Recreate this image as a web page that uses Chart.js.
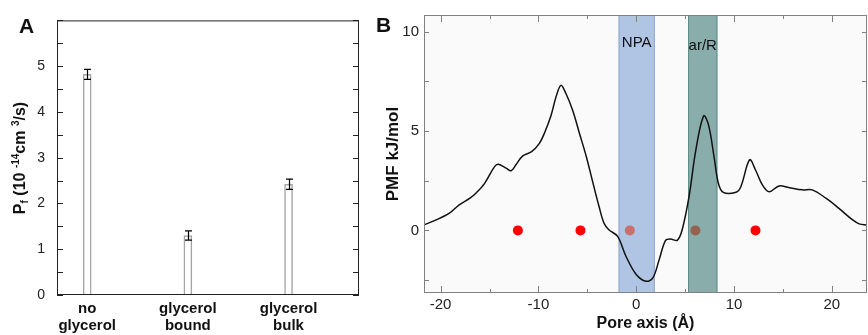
<!DOCTYPE html>
<html>
<head>
<meta charset="utf-8">
<script src="https://cdn.jsdelivr.net/npm/chart.js@4.4.1/dist/chart.umd.min.js"></script>
<style>
  body { margin: 0; background: #fff; }
  #wrapA { position: absolute; left: 0; top: 0; width: 370px; height: 335px; }
  #wrapB { position: absolute; left: 370px; top: 0; width: 498px; height: 335px; }
</style>
</head>
<body>
<div id="wrapA"><canvas id="chartA" width="370" height="335"></canvas></div>
<div id="wrapB"><canvas id="chartB" width="498" height="335"></canvas></div>
<script>
const FONT = "'Liberation Sans', Arial, sans-serif";

// Panel A - osmotic permeability
const pfLabels = [['no', 'glycerol'], ['glycerol', 'bound'], ['glycerol', 'bulk']];
const pfPos = [1, 2, 3];
const pfValues = [4.82, 1.30, 2.42];
const pfErrors = [0.11, 0.10, 0.11];
const pfTicks = [0, 0.5, 1, 1.5, 2, 2.5, 3, 3.5, 4, 4.5, 5, 5.5, 6];

// Panel B - PMF along the pore axis
const pmfX = [-21.7, -20.4, -19.1, -18.1, -17.0, -16.4, -15.5, -14.5, -14.1, -13.3, -12.8, -12.3,
  -11.6, -10.7, -9.9, -9.4, -8.7, -8.2, -7.7, -7.2, -6.5, -5.8, -5.1, -4.5, -3.8, -3.3, -2.8,
  -1.9, -1.05, 0, 1.0, 1.7, 2.35, 3.0, 3.5, 4.2, 4.7, 5.4, 6.1, 6.9, 7.4, 7.96, 8.4, 8.9, 10.2,
  10.7, 11.6, 12.2, 12.9, 13.6, 14.6, 15.6, 17.0, 18.0, 19.4, 20.7, 22.1, 22.8, 23.6];
const pmfY = [0.28, 0.54, 0.87, 1.29, 1.62, 1.87, 2.37, 3.2, 3.33, 3.13, 3.0, 3.3,
  3.75, 3.96, 4.38, 4.88, 5.8, 6.72, 7.3, 6.9, 6.05, 4.88, 3.71, 2.54, 1.2, 0.37, 0.03,
  -0.3, -1.3, -2.22, -2.56, -2.39, -1.47, -0.5, -0.43, -0.5, 0.03, 1.7, 4.05, 5.76, 5.3, 3.7, 2.37, 1.91, 1.92,
  2.2, 3.55, 3.04, 2.29, 1.94, 2.24, 2.16, 2.04, 2.04, 1.62, 1.12, 0.54, 0.33, 0.27];
const siteX = [-12.1, -5.7, -0.65, 6.05, 12.2];
const siteY = [0, 0, 0, 0, 0];
const bandRanges = [[-1.8, 1.9], [5.3, 8.3]];
const bandLabels = ['NPA', 'ar/R'];
const pmfXTicks = [-20, -15, -10, -5, 0, 5, 10, 15, 20];
const pmfYTicks = [-2.5, 0, 2.5, 5, 7.5, 10];

Chart.defaults.font.family = FONT;
Chart.defaults.color = '#222';

// draws a rotated label with sub/superscripts
function richText(ctx, parts, cx, cy) {
  ctx.save();
  ctx.translate(cx, cy);
  ctx.rotate(-Math.PI / 2);
  let total = 0;
  parts.forEach(p => { ctx.font = 'bold ' + p[1] + 'px ' + FONT; total += ctx.measureText(p[0]).width; });
  let x = -total / 2;
  ctx.fillStyle = '#111';
  ctx.textBaseline = 'alphabetic';
  parts.forEach(p => {
    ctx.font = 'bold ' + p[1] + 'px ' + FONT;
    ctx.fillText(p[0], x, p[2]);
    x += ctx.measureText(p[0]).width;
  });
  ctx.restore();
}

const panelA = {
  id: 'panelA',
  afterDatasetsDraw(chart) {
    const {ctx, chartArea: a, scales: {x, y}} = chart;
    ctx.save();
    ctx.strokeStyle = '#000';
    ctx.lineWidth = 1.2;
    pfPos.forEach((p, i) => {
      const px = Math.round(x.getPixelForValue(p)) + 0.5;
      const hi = y.getPixelForValue(pfValues[i] + pfErrors[i]);
      const lo = y.getPixelForValue(pfValues[i] - pfErrors[i]);
      ctx.beginPath();
      ctx.moveTo(px, hi); ctx.lineTo(px, lo);
      ctx.moveTo(px - 3.5, hi); ctx.lineTo(px + 3.5, hi);
      ctx.moveTo(px - 3.5, lo); ctx.lineTo(px + 3.5, lo);
      ctx.stroke();
    });
    ctx.strokeStyle = '#222';
    ctx.lineWidth = 1;
    ctx.strokeRect(a.left + 0.5, a.top + 0.5, a.width - 1, a.height - 1);
    ctx.beginPath();
    y.ticks.forEach(t => {
      const py = Math.round(y.getPixelForValue(t.value)) + 0.5;
      ctx.moveTo(a.left, py); ctx.lineTo(a.left + 6, py);
      ctx.moveTo(a.right, py); ctx.lineTo(a.right - 6, py);
    });
    ctx.stroke();
    ctx.fillStyle = '#111';
    ctx.font = 'bold 21px ' + FONT;
    ctx.fillText('A', 19, 33);
    ctx.restore();
    richText(ctx, [['P', 16, 0], ['f', 10, 3], [' (10 ', 16, 0], ['-14', 10, -6],
      ['cm ', 16, 0], ['3', 10, -6], ['/s)', 16, 0]], 25, 158);
  }
};

new Chart(document.getElementById('chartA'), {
  type: 'bar',
  data: {
    datasets: [{
      data: pfPos.map((p, i) => ({x: p, y: pfValues[i]})),
      backgroundColor: '#fff',
      borderColor: '#a5a5a5',
      borderWidth: 1.5,
      barThickness: 8
    }]
  },
  options: {
    responsive: false,
    animation: false,
    devicePixelRatio: 1,
    layout: {autoPadding: false, padding: {top: 15, right: 11, left: 0, bottom: 0}},
    plugins: {legend: {display: false}, tooltip: {enabled: false}},
    scales: {
      x: {
        type: 'linear',
        offset: false,
        min: 0.7,
        max: 3.7,
        grid: {display: false, drawTicks: false, offset: false},
        border: {display: false},
        afterBuildTicks: s => { s.ticks = pfPos.map(v => ({value: v})); },
        afterFit: s => { s.height = 40; s.paddingLeft = 0; s.paddingRight = 0; },
        ticks: {
          autoSkip: false,
          maxRotation: 0,
          padding: 5,
          color: '#111',
          font: {size: 15, weight: 'bold', lineHeight: 1.15},
          callback: v => pfLabels[pfPos.indexOf(v)]
        }
      },
      y: {
        min: 0,
        max: 6,
        grid: {display: false, drawTicks: false},
        border: {display: false},
        afterBuildTicks: s => { s.ticks = pfTicks.map(v => ({value: v})); },
        afterFit: s => { s.width = 57; },
        ticks: {
          padding: 12,
          font: {size: 14},
          callback: v => (Number.isInteger(v) && v < 6) ? String(v) : ''
        }
      }
    }
  },
  plugins: [panelA]
});

const panelB = {
  id: 'panelB',
  beforeDatasetsDraw(chart) {
    const {ctx, chartArea: a, scales: {x}} = chart;
    ctx.save();
    ctx.fillStyle = '#fafafa';
    ctx.fillRect(a.left, a.top, a.width, a.height);
    const fills = ['#b0c4e3', '#88adab'];
    const edges = ['#8ea6cf', '#5f8b89'];
    bandRanges.forEach((r, i) => {
      const x0 = x.getPixelForValue(r[0]);
      const x1 = x.getPixelForValue(r[1]);
      ctx.fillStyle = fills[i];
      ctx.fillRect(x0, a.top, x1 - x0, a.height);
      ctx.strokeStyle = edges[i];
      ctx.lineWidth = 1;
      ctx.strokeRect(x0 + 0.5, a.top + 0.5, x1 - x0 - 1, a.height - 1);
    });
    ctx.fillStyle = '#111';
    ctx.font = '15px ' + FONT;
    ctx.textAlign = 'center';
    ctx.fillText(bandLabels[0], x.getPixelForValue((bandRanges[0][0] + bandRanges[0][1]) / 2), 47);
    ctx.fillText(bandLabels[1], x.getPixelForValue((bandRanges[1][0] + bandRanges[1][1]) / 2), 50);
    ctx.restore();
  },
  afterDatasetsDraw(chart) {
    const {ctx, chartArea: a, scales: {x, y}} = chart;
    ctx.save();
    ctx.strokeStyle = '#808080';
    ctx.lineWidth = 1;
    ctx.strokeRect(a.left + 0.5, a.top + 0.5, a.width - 1, a.height - 1);
    ctx.beginPath();
    x.ticks.forEach(t => {
      const px = Math.round(x.getPixelForValue(t.value)) + 0.5;
      const len = t.value % 10 === 0 ? 7 : 4;
      ctx.moveTo(px, a.top); ctx.lineTo(px, a.top + len);
      ctx.moveTo(px, a.bottom); ctx.lineTo(px, a.bottom - len);
    });
    y.ticks.forEach(t => {
      const py = Math.round(y.getPixelForValue(t.value)) + 0.5;
      ctx.moveTo(a.left, py); ctx.lineTo(a.left + 5, py);
      ctx.moveTo(a.right, py); ctx.lineTo(a.right - 5, py);
    });
    ctx.stroke();
    ctx.fillStyle = '#111';
    ctx.font = 'bold 21px ' + FONT;
    ctx.fillText('B', 6, 32);
    ctx.restore();
  }
};

new Chart(document.getElementById('chartB'), {
  type: 'line',
  data: {
    datasets: [{
      data: pmfX.map((v, i) => ({x: v, y: pmfY[i]})),
      borderColor: '#111',
      borderWidth: 1.5,
      pointRadius: 0,
      tension: 0.35
    }, {
      data: siteX.map((v, i) => ({x: v, y: siteY[i]})),
      showLine: false,
      pointRadius: 5,
      pointBorderWidth: 0,
      pointBackgroundColor: ['#ff0000', '#ff0000', '#c9706d', '#966250', '#ff0000']
    }]
  },
  options: {
    responsive: false,
    animation: false,
    devicePixelRatio: 1,
    layout: {autoPadding: false, padding: {top: 15, right: 1, left: 0, bottom: 0}},
    plugins: {legend: {display: false}, tooltip: {enabled: false}},
    scales: {
      x: {
        type: 'linear',
        min: -21.7,
        max: 23.6,
        grid: {display: false, drawTicks: false},
        border: {display: false},
        afterBuildTicks: s => { s.ticks = pmfXTicks.map(v => ({value: v})); },
        afterFit: s => { s.height = 42; s.paddingLeft = 0; s.paddingRight = 0; },
        ticks: {
          padding: 3,
          maxRotation: 0,
          autoSkip: false,
          font: {size: 15},
          callback: v => v % 10 === 0 ? String(v) : ''
        },
        title: {
          display: true,
          text: 'Pore axis (Å)',
          color: '#111',
          font: {size: 16, weight: 'bold'},
          padding: {top: 0, bottom: 2}
        }
      },
      y: {
        min: -3.15,
        max: 10.84,
        grid: {display: false, drawTicks: false},
        border: {display: false},
        afterBuildTicks: s => { s.ticks = pmfYTicks.map(v => ({value: v})); },
        afterFit: s => { s.width = 54; },
        ticks: {
          padding: 5,
          font: {size: 15},
          callback: v => v % 5 === 0 ? String(v) : ''
        },
        title: {
          display: true,
          text: 'PMF kJ/mol',
          color: '#111',
          font: {size: 17, weight: 'bold'},
          padding: {top: 13, bottom: 0}
        }
      }
    }
  },
  plugins: [panelB]
});
</script>
</body>
</html>
